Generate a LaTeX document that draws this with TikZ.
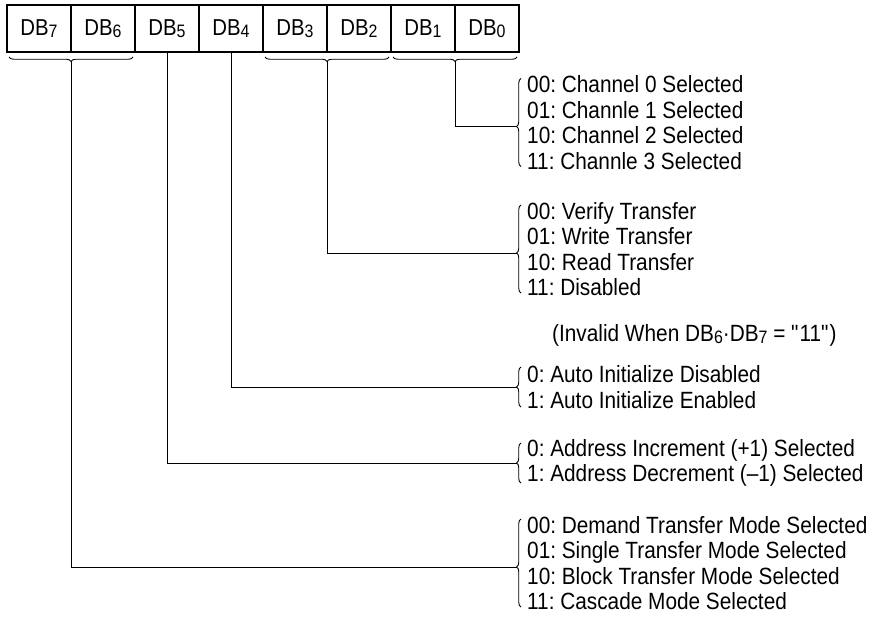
\documentclass[tikz,border=0pt]{standalone}
\usepackage{fontspec}
\setmainfont[FakeStretch=0.885]{Liberation Sans}
\usetikzlibrary{decorations.pathreplacing,calc}
\newcommand\dbsub[1]{\raisebox{-2.5pt}{\fontsize{18}{18}\selectfont #1}}
\begin{document}
\frenchspacing
\begin{tikzpicture}[x=1pt,y=-1pt,
  bit/.style={draw, line width=1.2pt, minimum width=64pt, minimum height=47pt,
    inner sep=0pt, outer sep=0pt, font=\fontsize{23}{23}\selectfont},
  grp/.style={anchor=west, align=left, inner sep=0pt, font=\fontsize{23.5}{25.6}\selectfont},
  wire/.style={line width=1pt},
  brc/.style={decorate, decoration={brace, amplitude=4.5pt}, line width=0.9pt},
  brcl/.style={decorate, decoration={brace, amplitude=4.5pt, aspect=0.455}, line width=0.9pt}]
\useasboundingbox (0,0) rectangle (876,618);

% register bits
\node[bit] (b7) at (39,28.5)  {DB\dbsub{7}};
\node[bit] (b6) at (103,28.5) {DB\dbsub{6}};
\node[bit] (b5) at (167,28.5) {DB\dbsub{5}};
\node[bit] (b4) at (231,28.5) {DB\dbsub{4}};
\node[bit] (b3) at (295,28.5) {DB\dbsub{3}};
\node[bit] (b2) at (359,28.5) {DB\dbsub{2}};
\node[bit] (b1) at (423,28.5) {DB\dbsub{1}};
\node[bit] (b0) at (487,28.5) {DB\dbsub{0}};

% braces under bit pairs
\draw[brc] ($(b6.south east)+(-2,5)$) -- ($(b7.south west)+(2,5)$);
\draw[brc] ($(b2.south east)+(-2,5)$) -- ($(b3.south west)+(2,5)$);
\draw[brc] ($(b0.south east)+(-2,5)$) -- ($(b1.south west)+(2,5)$);
\coordinate (t76) at ($(b7.south east)+(0,9.5)$);
\coordinate (t32) at ($(b3.south east)+(0,9.5)$);
\coordinate (t10) at ($(b1.south east)+(0,9.5)$);

% option groups
\node[grp] (g1) at (527,122.5) {00: Channel 0 Selected\\01: Channle 1 Selected\\10: Channel 2 Selected\\11: Channle 3 Selected};
\node[grp] (g2) at (527,249) {00: Verify Transfer\\01: Write Transfer\\10: Read Transfer\\11: Disabled};
\node[grp] (nt) at (552,335) {(Invalid When DB\dbsub{6}·DB\dbsub{7} = \textquotedbl 11\textquotedbl)};
\node[grp] (g3) at (527,387) {0: Auto Initialize Disabled\\1: Auto Initialize Enabled};
\node[grp] (g4) at (527,463) {0: Address Increment (+1) Selected\\1: Address Decrement (–1) Selected};
\node[grp] (g5) at (527,563) {00: Demand Transfer Mode Selected\\01: Single Transfer Mode Selected\\10: Block Transfer Mode Selected\\11: Cascade Mode Selected};

% braces at the groups
\draw[brcl] ($(g1.west)+(-6,44)$) -- ($(g1.west)+(-6,-44)$);
\draw[brcl] ($(g2.west)+(-6,44)$) -- ($(g2.west)+(-6,-44)$);
\draw[brc]  ($(g3.west)+(-6,20)$) -- ($(g3.west)+(-6,-20)$);
\draw[brc]  ($(g4.west)+(-6,20)$) -- ($(g4.west)+(-6,-20)$);
\draw[brcl] ($(g5.west)+(-6,44)$) -- ($(g5.west)+(-6,-44)$);

% connectors
\draw[wire] (t10) |- ($(g1.west)+(-10.5,4)$);
\draw[wire] (t32) |- ($(g2.west)+(-10.5,4)$);
\draw[wire] (b4.south) |- ($(g3.west)+(-10.5,0)$);
\draw[wire] (b5.south) |- ($(g4.west)+(-10.5,0)$);
\draw[wire] (t76) |- ($(g5.west)+(-10.5,4)$);
\end{tikzpicture}
\end{document}
